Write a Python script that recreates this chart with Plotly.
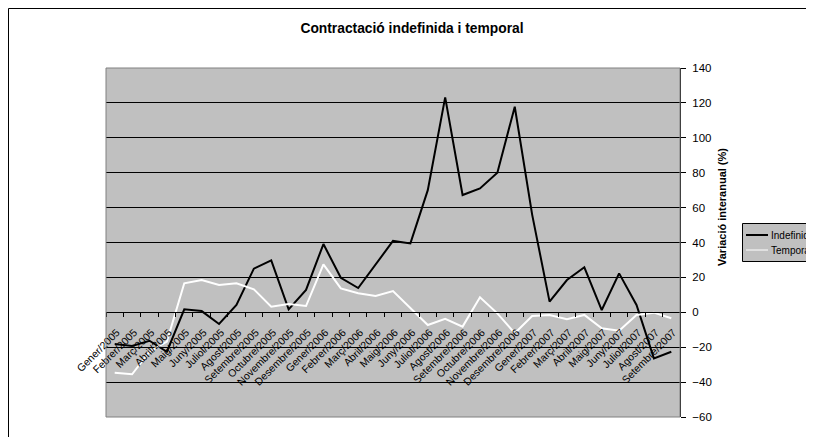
import plotly.graph_objects as go

months = ["Gener", "Febrer", "Març", "Abril", "Maig", "Juny", "Juliol", "Agost",
          "Setembre", "Octubre", "Novembre", "Desembre"]
categories = [f"{m}/{y}" for y in (2005, 2006, 2007) for m in months][:33]

indefinida = [-18.2, -19.3, -16.3, -22.6, 1.7, 0.7, -6.7, 4.2, 25.0, 29.8, 1.7, 12.8,
              39.1, 19.8, 13.9, 27.1, 40.9, 39.5, 70.0, 123.2, 67.2, 71.0, 80.0, 117.8,
              56.0, 6.1, 18.5, 25.8, 1.3, 22.3, 4.2, -26.4, -22.6]
temporal = [-34.6, -35.5, -22.6, -16.8, 16.6, 18.5, 15.6, 16.6, 13.2, 3.2, 4.8, 3.6,
            27.5, 13.7, 10.9, 9.3, 12.2, 2.3, -7.3, -3.8, -8.2, 8.6, -0.6, -12.0,
            -2.1, -1.5, -4.0, -1.5, -9.2, -10.5, -1.5, -0.2, -3.4]
series_names = ["Indefinida", "Temporal"]
series_colors = ["black", "white"]

title = "Contractació indefinida i temporal"
ytitle = "Variació interanual (%)"
FONT = "Liberation Sans, Arial, sans-serif"

# page body has an 8px margin: work in reference pixels, shift by OFF
OFF = 8
W, H = 814 - OFF, 437 - OFF
L, R, T, B = 106, 680, 68, 417  # plot area in reference pixels

pw, ph = R - L, B - T
def px(x): return (x - L) / pw
def py(y): return (B - y) / ph

fig = go.Figure()
for name, vals, col in zip(series_names, [indefinida, temporal], series_colors):
    fig.add_trace(go.Scatter(x=categories, y=vals, mode="lines", name=name,
                             line=dict(color=col, width=2)))
# invisible helper so the label axis (x2) knows the categories
fig.add_trace(go.Scatter(x=categories, y=indefinida, xaxis="x2", mode="lines",
                         line=dict(width=0, color="rgba(0,0,0,0)"), opacity=0,
                         hoverinfo="skip", showlegend=False))

shapes = [
    dict(type="rect", xref="paper", yref="paper", x0=0, x1=1, y0=0, y1=1,
         line=dict(color="#808080", width=1), layer="above"),
    # chart frame
    dict(type="rect", xref="paper", yref="paper", x0=px(8.5), x1=px(900),
         y0=py(500), y1=py(8.5), line=dict(color="black", width=1), layer="below"),
    # legend box
    dict(type="rect", xref="paper", yref="paper", x0=px(742.5), x1=px(860),
         y0=py(261.5), y1=py(223.5), fillcolor="#C0C0C0",
         line=dict(color="black", width=1), layer="above"),
]
annotations = [
    dict(text=f"<b>{ytitle}</b>", xref="paper", yref="paper", x=px(722), y=py(207),
         textangle=-90, showarrow=False, xanchor="center", yanchor="middle",
         font=dict(size=11, family=FONT, color="black")),
]
for i, (name, col) in enumerate(zip(series_names, series_colors)):
    yy = 235 + 15 * i
    shapes.append(dict(type="line", xref="paper", yref="paper", x0=px(746), x1=px(768),
                       y0=py(yy), y1=py(yy), line=dict(color=col, width=2 if i == 0 else 1),
                       layer="above"))
    annotations.append(dict(text=name, xref="paper", yref="paper", x=px(769), y=py(yy),
                            showarrow=False, xanchor="left", yanchor="middle",
                            font=dict(size=10, family=FONT, color="black")))

xr = [-0.5, len(categories) - 0.5]
fig.update_layout(
    width=W, height=H,
    margin=dict(l=L - OFF, r=814 - R, t=T - OFF, b=437 - B, autoexpand=False),
    paper_bgcolor="white", plot_bgcolor="#C0C0C0",
    font=dict(family=FONT, color="black"),
    title=dict(text=f"<b>{title}</b>", x=(412 - OFF) / W, y=1 - (28 - OFF) / H,
               xref="container", yref="container", xanchor="center", yanchor="middle",
               font=dict(size=13.8, family=FONT, color="black")),
    showlegend=False,
    # axis line and tick marks at y = 0
    xaxis=dict(type="category", anchor="free", position=60 / 200, range=xr,
               showgrid=False, showline=True, linecolor="black", linewidth=1,
               ticks="outside", tickson="boundaries", ticklen=4, tickcolor="black",
               showticklabels=False, zeroline=False),
    # tick labels, pushed a little lower
    xaxis2=dict(type="category", anchor="free", position=60 / 200, overlaying="x",
                range=xr, showgrid=False, showline=False, ticks="outside", ticklen=9,
                tickcolor="rgba(0,0,0,0)", tickangle=-45, ticklabelshift=2,
                tickfont=dict(size=10.5, family=FONT, color="black"), zeroline=False),
    yaxis=dict(side="right", range=[-60, 140], dtick=20, showline=True,
               linecolor="black", linewidth=1, ticks="outside", ticklen=5,
               tickcolor="black", showgrid=True, gridcolor="black", gridwidth=1,
               zeroline=True, zerolinecolor="black", zerolinewidth=1,
               tickfont=dict(size=11.5, family=FONT, color="black"),
               ticklabelstandoff=4),
    shapes=shapes,
    annotations=annotations,
)

fig.write_html("out.html")
